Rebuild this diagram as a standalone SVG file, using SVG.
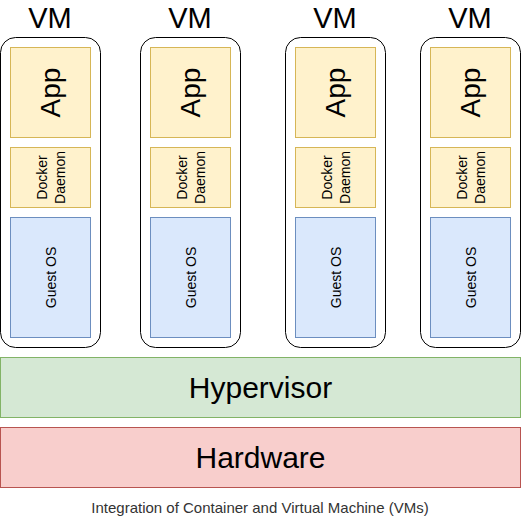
<svg xmlns="http://www.w3.org/2000/svg" width="521" height="518" viewBox="0 0 521 518">
<style>
text{font-family:"Liberation Sans",Arial,sans-serif;fill:#000}
.vm{fill:#fff;stroke:#000;stroke-width:1}
.app{fill:#fff2cc;stroke:#d6b656}
.os{fill:#dae8fc;stroke:#6c8ebf}
.big{font-size:29px;text-anchor:middle}
.app-t{font-size:28px;text-anchor:middle;dominant-baseline:central}
.sm{font-size:14px;text-anchor:middle;dominant-baseline:central}
</style>
<defs>
<g id="vmtpl">
<text class="big" x="50" y="28">VM</text>
<rect class="vm" x="0.5" y="37.5" width="100" height="310" rx="15"/>
<rect class="app" x="10.5" y="47.5" width="80" height="90"/>
<text class="app-t" transform="translate(50.5,92.5) rotate(-90)">App</text>
<rect class="app" x="10.5" y="147.5" width="80" height="60"/>
<text class="sm" transform="translate(50.5,177.5) rotate(-90)"><tspan x="0" y="-9">Docker</tspan><tspan x="0" y="9">Daemon</tspan></text>
<rect class="os" x="10.5" y="217.5" width="80" height="120"/>
<text class="sm" transform="translate(50.5,277.5) rotate(-90)">Guest OS</text>
</g>
</defs>
<g id="vm1"><use href="#vmtpl"/></g>
<g id="vm2" transform="translate(140,0)"><use href="#vmtpl"/></g>
<g id="vm3" transform="translate(285,0)"><use href="#vmtpl"/></g>
<g id="vm4" transform="translate(420,0)"><use href="#vmtpl"/></g>
<g id="hypervisor">
<rect x="0.5" y="357.5" width="520" height="60" fill="#d5e8d4" stroke="#82b366"/>
<text class="big" x="260.5" y="397.5" style="font-size:30px">Hypervisor</text>
</g>
<g id="hardware">
<rect x="0.5" y="427.5" width="520" height="60" fill="#f8cecc" stroke="#b85450"/>
<text class="big" x="260.5" y="468" style="font-size:30px">Hardware</text>
</g>
<g id="caption">
<text x="260" y="513" style="font-size:15px;text-anchor:middle;fill:#333">Integration of Container and Virtual Machine (VMs)</text>
</g>
<g id="connectors"/>
</svg>
